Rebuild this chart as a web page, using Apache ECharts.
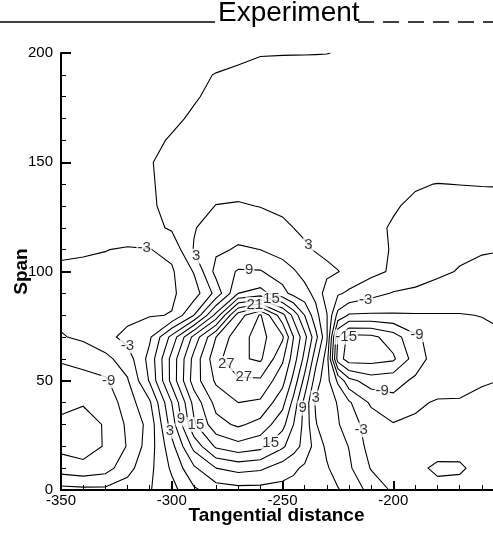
<!DOCTYPE html>
<html><head><meta charset="utf-8">
<script src="https://cdn.jsdelivr.net/npm/echarts@6/dist/echarts.min.js"></script>
<style>html,body{margin:0;padding:0;background:#fff}#c{width:493px;height:538px}</style>
</head><body><div id="c"></div>
<script>
// grid columns (tangential distance) and rows (span)
const xCoords = [-350,-340,-330,-320,-310,-300,-290,-280,-270,-260,-250,-245,-240,-235,-230,-225,-220,-210,-200,-190,-180,-170,-160,-150];
const yCoords = [0,10,20,30,40,50,60,70,80,90,100,110,120,130,140,150,160,170,180,190,200];
// measured values, one row per span
const span000 = [-5,-5.2,-5.3,-4.6,-3.2,-1,2.5,4.5,5,5,5,5,4.8,4.5,4,3.2,2,-1,-3.5,-5,-5.5,-5.5,-5.5,-5];
const span010 = [-10.5,-11.2,-10.3,-7,-3.8,0.5,5.5,9,10,9.5,7.5,6.5,5.5,4.4,3.3,1.8,0.5,-3.2,-5.3,-5.6,-6.3,-6.2,-5.5,-5.2];
const span020 = [-12.8,-13.2,-11.8,-8.8,-4.5,2,10,15.5,17,16,12.5,10.3,8,4.8,2.4,1.2,-0.1,-4.3,-5.2,-5.3,-5.3,-5.5,-4.8,-4.6];
const span030 = [-12.8,-13,-11.8,-8.5,-5,4.5,14.5,20,21.5,20,16,12,8,3.2,1.2,0.3,-1.8,-4.2,-5.8,-5.5,-5.2,-5,-4.8,-4.5];
const span040 = [-11,-11.8,-11,-7.5,-3.5,6,16,22,24,23.5,19,14,8,2.6,1.4,-0.2,-2.6,-6.5,-8.2,-6.5,-5.7,-5.8,-5.2,-5];
const span050 = [-9.8,-10,-9.5,-6.3,0.3,10,19.5,24.5,26.5,26.5,22,17,11,4.5,1,-3.5,-8,-10.5,-10,-8.5,-7.5,-6.8,-6.3,-5.9];
const span060 = [-8.8,-8,-6.8,-4.5,1,10,19,26,29.5,30.5,24.5,19.5,14,7,1.5,-13.5,-16.5,-16.2,-15.5,-10.5,-7.5,-7,-6.6,-6.4];
const span070 = [-6.2,-5.5,-4,-2,-0.5,7,16,24,29,31,27.5,21,16,10,3.5,-12,-16,-15.8,-13.5,-9.5,-7.8,-7,-6.5,-6.2];
const span080 = [-5.4,-5,-4.6,-4,-3.2,-2.9,3,13,25.5,30.3,22,17,12,7,3.2,-4,-6.3,-6.4,-6.3,-6.2,-6.15,-6.1,-5.95,-5.6];
const span090 = [-4,-4.1,-4,-3.8,-3.6,-3.4,-1.5,4,12,13,10,8,7,5.2,1.5,0.4,-0.5,-2,-3.2,-3.6,-4.3,-4.8,-5.1,-5.2];
const span100 = [-3.3,-3.4,-3.5,-3.6,-3.6,-3.4,0.2,7,9.3,9.2,7.5,6.3,5,4.4,3.8,3.1,2.2,0.8,-0.4,-1.5,-2.4,-3.2,-3.6,-3.8];
const span110 = [-2.7,-2.8,-2.95,-3.2,-3.1,-2.2,3.2,5.5,6.3,6,4.8,4.1,3.4,2.8,2.2,1.7,1.3,0.4,-0.1,-1.2,-1.9,-2.4,-2.8,-2.95];
const span120 = [-2.3,-2.2,-2,-1.7,-0.9,0.4,2.8,4.5,5,4.6,3.5,3,2.5,2.1,1.8,1.5,1.2,0.5,-0.2,-0.8,-1.3,-1.7,-2,-2.2];
const span130 = [-1.8,-1.6,-1.2,-0.6,-0.2,0.4,1.5,3.1,3.3,2.9,2.5,2.35,2.2,2,1.8,1.5,1.2,0.5,0.2,-0.4,-1,-1.1,-1.2,-1.2];
const span140 = [-1.7,-1.5,-1.1,-0.7,-0.2,0.6,1,1.5,1.8,2,2,1.95,1.9,1.8,1.7,1.5,1.3,0.9,0.5,0.2,-0.05,0.05,0.15,0.2];
const span150 = [-1.6,-1.4,-1.1,-0.6,-0.1,0.5,0.9,1.3,1.6,1.8,1.8,1.8,1.8,1.8,1.8,1.8,1.8,1.8,1.7,1.6,1.4,1.2,1,0.9];
const span160 = [-1.5,-1.4,-1.2,-0.9,-0.5,0.2,0.7,1.1,1.4,1.6,1.6,1.6,1.6,1.6,1.6,1.6,1.6,1.6,1.6,1.6,1.6,1.5,1.4,1.3];
const span170 = [-1.5,-1.5,-1.3,-1,-0.7,-0.4,0.3,0.9,1.2,1.4,1.4,1.4,1.4,1.4,1.4,1.4,1.4,1.4,1.4,1.4,1.4,1.4,1.4,1.4];
const span180 = [-1.5,-1.5,-1.4,-1.2,-0.9,-0.6,-0.2,0.5,1,1.2,1.2,1.2,1.2,1.2,1.2,1.2,1.2,1.2,1.2,1.2,1.2,1.2,1.2,1.2];
const span190 = [-1.5,-1.5,-1.5,-1.4,-1.2,-0.9,-0.5,0.1,0.5,0.8,1,1,1,1,1,1,1,1,1,1,1,1,1,1];
const span200 = [-1.5,-1.5,-1.5,-1.5,-1.5,-1.5,-1.2,-1,-0.6,-0.15,-0.12,-0.11,-0.1,-0.08,-0.05,0.1,0.3,0.6,0.8,1,1,1,1,1];
// contour levels
const levels = [-15,-12,-9,-6,-3,0,3,6,9,12,15,18,21,24,27,30];
// contour labels: text (= level) and the approximate place along the line
const labelText = ['-3','3','-3','-9','3','9','15','9','21','15','27','27','15','9','3','-3','-9','-9','-15','-3','3'];
const labelNearX = [-313,-292,-321,-329,-302,-295,-288,-266,-262,-253,-277,-267,-258,-246,-233,-215,-205,-189,-224,-213,-236];
const labelNearY = [112,105,65,49.5,26.5,32,30.6,100.6,88.3,91.4,58,54,24.7,38,42.5,28,44.8,71,69.5,85.5,114.6];

const grid = [span000,span010,span020,span030,span040,span050,span060,span070,span080,span090,span100,
  span110,span120,span130,span140,span150,span160,span170,span180,span190,span200];

function buildContours(g, xs, ys, level){
  const nx = xs.length, ny = ys.length;
  const pts = {}, adj = {};
  const kH = (i,j)=>'h'+i+'_'+j, kV = (i,j)=>'v'+i+'_'+j;
  const interp = (xa,ya,va,xb,yb,vb)=>{const t=(level-va)/(vb-va);return [xa+t*(xb-xa), ya+t*(yb-ya)];};
  const addSeg = (a,b)=>{(adj[a]=adj[a]||[]).push(b);(adj[b]=adj[b]||[]).push(a);};
  for(let j=0;j<ny-1;j++){
    for(let i=0;i<nx-1;i++){
      const v0=g[j][i], v1=g[j][i+1], v2=g[j+1][i+1], v3=g[j+1][i];
      const a0=v0>=level, a1=v1>=level, a2=v2>=level, a3=v3>=level;
      const keys=[kH(i,j),kV(i+1,j),kH(i,j+1),kV(i,j)];
      const cross=[a0!==a1,a1!==a2,a3!==a2,a0!==a3];
      if(cross[0]) pts[keys[0]]=interp(xs[i],ys[j],v0,xs[i+1],ys[j],v1);
      if(cross[1]) pts[keys[1]]=interp(xs[i+1],ys[j],v1,xs[i+1],ys[j+1],v2);
      if(cross[2]) pts[keys[2]]=interp(xs[i],ys[j+1],v3,xs[i+1],ys[j+1],v2);
      if(cross[3]) pts[keys[3]]=interp(xs[i],ys[j],v0,xs[i],ys[j+1],v3);
      const idx=[0,1,2,3].filter(k=>cross[k]);
      if(idx.length===2) addSeg(keys[idx[0]],keys[idx[1]]);
      else if(idx.length===4){
        const c=(v0+v1+v2+v3)/4>=level;
        if(a0!==c){addSeg(keys[0],keys[3]);addSeg(keys[1],keys[2]);}
        else {addSeg(keys[0],keys[1]);addSeg(keys[2],keys[3]);}
      }
    }
  }
  const visited=new Set(), lines=[];
  const walk=(start)=>{
    const line=[pts[start]]; visited.add(start); let cur=start;
    while(true){
      const nb=adj[cur].filter(k=>!visited.has(k));
      if(!nb.length){ if(line.length>2 && adj[cur].includes(start)) line.push(pts[start]); break; }
      cur=nb[0]; visited.add(cur); line.push(pts[cur]);
    }
    return line;
  };
  const all=Object.keys(adj);
  all.forEach(k=>{ if(adj[k].length===1 && !visited.has(k)) lines.push(walk(k)); });
  all.forEach(k=>{ if(!visited.has(k)) lines.push(walk(k)); });
  return lines;
}

const contourByLevel = {};
const lineData = [];
levels.forEach(l=>{
  const ls = buildContours(grid, xCoords, yCoords, l);
  contourByLevel[l] = ls;
  ls.forEach(p=>lineData.push({coords:p}));
});

// snap each label onto its contour
const labelData = [];
labelText.forEach((t,n)=>{
  const ls = contourByLevel[Number(t)];
  if(!ls) return;
  let best=null, bd=Infinity;
  ls.forEach(p=>{
    for(let k=0;k<p.length-1;k++){
      const a=p[k], b=p[k+1];
      for(let s=0;s<=4;s++){
        const x=a[0]+(b[0]-a[0])*s/4, y=a[1]+(b[1]-a[1])*s/4;
        const d=(x-labelNearX[n])**2+(y-labelNearY[n])**2;
        if(d<bd){bd=d;best=[x,y];}
      }
    }
  });
  if(best) labelData.push([best[0],best[1],t]);
});

const FONT = '"Liberation Sans", Arial, Helvetica, sans-serif';
const chart = echarts.init(document.getElementById('c'), null, {renderer:'canvas'});
chart.setOption({
  animation:false,
  backgroundColor:'#fff',
  grid:{left:61, right:-11, top:53, bottom:48, containLabel:false, outerBoundsMode:'none'},
  xAxis:{
    type:'value', min:-350, max:-150, interval:50,
    name:'Tangential distance', nameLocation:'middle', nameGap:16, nameMoveOverlap:false,
    nameTextStyle:{fontSize:19, fontWeight:'bold', color:'#000', fontFamily:FONT, padding:[0,12,0,0]},
    axisLine:{onZero:false, lineStyle:{color:'#000', width:2}},
    axisTick:{inside:true, length:9, lineStyle:{color:'#000', width:2}},
    minorTick:{show:true, splitNumber:5, length:5, lineStyle:{color:'#000', width:1}},
    axisLabel:{color:'#000', fontSize:15, fontFamily:FONT, margin:3, formatter:v=> v>-160 ? '' : String(v)},
    splitLine:{show:false}
  },
  yAxis:{
    type:'value', min:0, max:200, interval:50,
    name:'Span', nameLocation:'middle', nameGap:30, nameMoveOverlap:false,
    nameTextStyle:{fontSize:19, fontWeight:'bold', color:'#000', fontFamily:FONT},
    axisLine:{onZero:false, lineStyle:{color:'#000', width:2}},
    axisTick:{inside:true, length:10, lineStyle:{color:'#000', width:2}},
    minorTick:{show:true, splitNumber:5, length:5, lineStyle:{color:'#000', width:1}},
    axisLabel:{color:'#000', fontSize:15, fontFamily:FONT, margin:8},
    splitLine:{show:false}
  },
  graphic:[
    {type:'line', shape:{x1:0,y1:22,x2:215,y2:22}, style:{stroke:'#000', lineWidth:1.5}},
    {type:'text', left:218, top:-1, style:{text:'Experiment', font:'28px '+FONT, fill:'#000'}},
    {type:'line', shape:{x1:358,y1:22,x2:493,y2:22}, style:{stroke:'#000', lineWidth:1.5, lineDash:[16,9]}}
  ],
  series:[
    {type:'lines', coordinateSystem:'cartesian2d', polyline:true, silent:true, clip:true,
     lineStyle:{color:'#000', width:1.1, opacity:1}, data:lineData, z:2},
    {type:'scatter', data:labelData, symbolSize:1, silent:true,
     itemStyle:{color:'rgba(0,0,0,0)'},
     label:{show:true, position:'inside', formatter:p=>p.value[2], color:'#000', fontSize:15,
            fontFamily:FONT, backgroundColor:'#fff', padding:[0,1]}, z:5}
  ]
});
</script>
</body></html>
